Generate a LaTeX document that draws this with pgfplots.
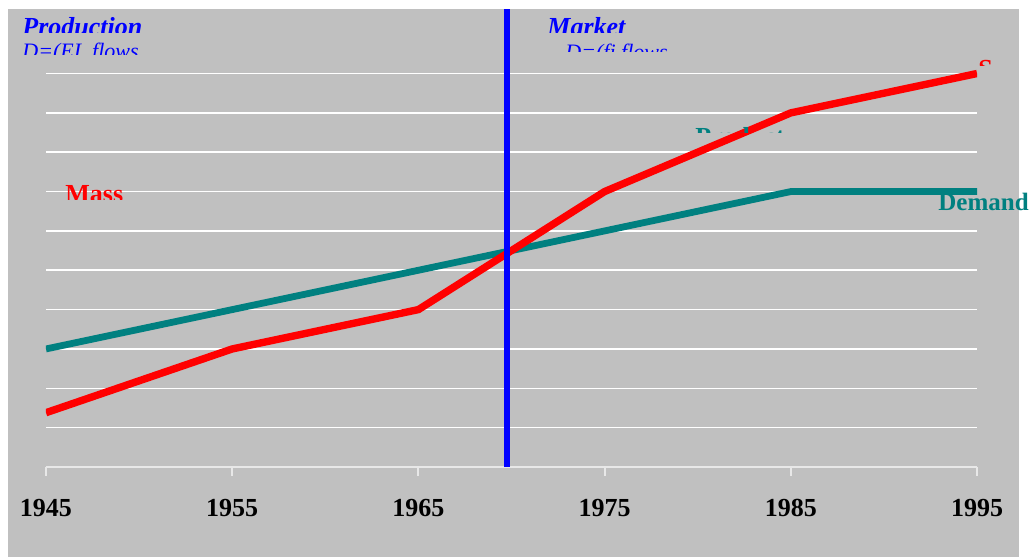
\documentclass[border=0pt]{standalone}
\usepackage{pgfplots}
\pgfplotsset{compat=1.18}
\usepackage{fontspec}
\setmainfont{Liberation Serif}
\definecolor{bggray}{HTML}{C0C0C0}
\definecolor{tealc}{HTML}{008080}
\definecolor{axisgray}{HTML}{E8E8E8}
\begin{document}
\begin{tikzpicture}
\begin{scope}[x=0.5pt,y=-0.5pt,shift={(-23pt,233.5pt)}]
\path[use as bounding box, fill=white] (0,0) rectangle (1029,557);
\fill[bggray] (8,9) rectangle (1019,557);
\end{scope}
\begin{axis}[
  at={(0,0)}, anchor=south west,
  scale only axis, width=465.5pt, height=229pt,
  xmin=1945, xmax=1995, ymin=0, ymax=11.64,
  axis x line*=bottom, axis y line*=left,
  y axis line style={draw=none},
  x axis line style={-, draw=axisgray, line width=1pt},
  xtick={1945,1955,1965,1975,1985,1995},
  xticklabels={1945,1955,1965,1975,1985,1995},
  xticklabel style={font=\fontsize{13}{13}\selectfont\bfseries, yshift=-8pt, text=black},
  tick align=outside,
  xtick style={draw=axisgray, line width=1pt},
  major tick length=4.5pt,
  ytick={1,2,3,4,5,6,7,8,9,10}, yticklabels={}, ytick style={draw=none},
  ymajorgrids, grid style={white, line width=0.8pt},
]
\addplot[tealc, line width=3.4pt, mark=none] coordinates {(1945,3) (1955,4) (1965,5) (1975,6) (1985,7) (1995,7)};
\addplot[red, line width=3.7pt, mark=none] coordinates {(1945,1.38) (1955,3) (1965,4) (1970,5.5) (1975,7) (1985,9) (1995,10)};
\addplot[blue, line width=3pt, mark=none] coordinates {(1969.76,0) (1969.76,11.64)};
\end{axis}
\begin{scope}[x=0.5pt,y=-0.5pt,shift={(-23pt,233.5pt)}]
\begin{scope}
\clip (10,10) rectangle (300,32.5);
\node[anchor=base west, inner sep=0, text=blue, font=\fontsize{13}{13}\selectfont\bfseries\itshape] at (22,36) {Production};
\end{scope}
\begin{scope}
\clip (10,40) rectangle (300,55);
\node[anchor=base west, inner sep=0, text=blue, font=\fontsize{11}{11}\selectfont\itshape] at (22,58.6) {D=(EI. flows};
\end{scope}
\begin{scope}
\clip (530,10) rectangle (800,32.5);
\node[anchor=base west, inner sep=0, text=blue, font=\fontsize{13}{13}\selectfont\bfseries\itshape] at (547,35.5) {Market};
\end{scope}
\begin{scope}
\clip (540,40) rectangle (800,51.5);
\node[anchor=base west, inner sep=0, text=blue, font=\fontsize{11}{11}\selectfont\itshape] at (565,59.6) {D=(fi flows};
\end{scope}
\begin{scope}
\clip (50,170) rectangle (200,200);
\node[anchor=base west, inner sep=0, text=red, font=\fontsize{13}{13}\selectfont\bfseries] at (65,203) {Mass};
\end{scope}
\begin{scope}
\clip (680,120) rectangle (800,133);
\node[anchor=base west, inner sep=0, text=tealc, font=\fontsize{13}{13}\selectfont\bfseries] at (695,146) {Product};
\end{scope}
\begin{scope}
\clip (970,50) rectangle (1000,66);
\node[anchor=base west, inner sep=0, text=red, font=\fontsize{13}{13}\selectfont\bfseries] at (978,78) {S};
\end{scope}
\node[anchor=base west, inner sep=0, text=tealc, font=\fontsize{12.5}{12.5}\selectfont\bfseries] at (938,211) {Demand};
\end{scope}
\end{tikzpicture}
\end{document}
